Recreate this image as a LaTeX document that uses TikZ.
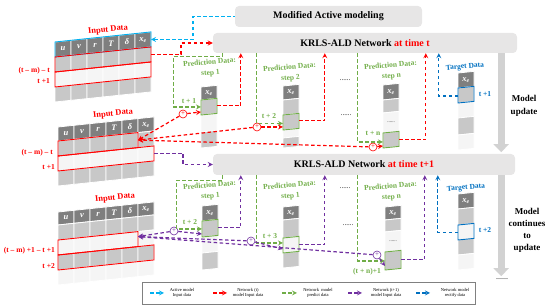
\documentclass[tikz,border=0pt]{standalone}
\usepackage{fontspec}
\setmainfont{Liberation Serif}
\usepackage{xcolor}
\usepackage{tikz}
\usetikzlibrary{arrows.meta, positioning}

\definecolor{cyanc}{RGB}{0,176,240}
\definecolor{redc}{RGB}{255,0,0}
\definecolor{greenc}{RGB}{112,173,71}
\definecolor{purplec}{RGB}{112,48,160}
\definecolor{bluec}{RGB}{0,112,192}
\definecolor{hdcol}{RGB}{127,127,127}
\definecolor{cgray}{RGB}{200,200,200}
\definecolor{clight}{RGB}{245,245,245}
\definecolor{boxgray}{RGB}{231,230,230}

\tikzset{
  netbox/.style={fill=boxgray, rounded corners=4pt, inner sep=0pt, font=\fontsize{10}{12}\selectfont\bfseries},
  cellbox/.style={draw=white, line width=0.8pt},
  hdtxt/.style={text=white, font=\fontsize{8.5}{9}\selectfont\bfseries\itshape, inner sep=0pt},
  dashln/.style={dash pattern=on 3.5pt off 2.5pt, line width=1.2pt},
  cline/.style={dashln, cyanc},
  rline/.style={dashln, redc},
  gline/.style={dashln, greenc},
  pline/.style={dashln, purplec},
  bline/.style={dashln, bluec},
  redbox/.style={draw=redc, line width=0.9pt},
  gcell/.style={draw=greenc, line width=0.9pt},
  bcell/.style={draw=bluec, line width=0.9pt},
  plus/.style={circle, draw=#1, text=#1, line width=0.6pt, minimum size=8pt, inner sep=0pt, font=\fontsize{7}{7}\selectfont},
  lab/.style={font=\fontsize{7.5}{8.5}\selectfont\bfseries, inner sep=1pt},
  predlab/.style={font=\fontsize{7.5}{10.5}\selectfont\bfseries, inner sep=0pt, text=greenc, align=center, rotate=5},
  leglab/.style={font=\fontsize{4.5}{5.5}\selectfont, align=center},
  bigarrow/.style={line width=7pt, gray!35, -{Triangle[width=15pt,length=8pt]}}
}

\begin{document}
\begin{tikzpicture}[x=1pt, y=-1pt, >=stealth]
\useasboundingbox (0,0) rectangle (550,307);

% Boxen oben
\node[netbox, minimum width=187pt, minimum height=21pt] (mod) at (328.5,16.5) {Modified Active modeling};
\node[netbox, minimum width=304pt, minimum height=20pt] (net1) at (365,43) {KRLS-ALD Network \textcolor{redc}{at time t}};
\node[netbox, minimum width=302pt, minimum height=21pt] (net2) at (364,164.5) {KRLS-ALD Network \textcolor{redc}{at time t+1}};

% grosse Pfeile rechts
\draw[bigarrow] ([xshift=-16]net1.south east) -- ++(0,99);
\draw[bigarrow] ([xshift=-14]net2.south east) -- ++(0,101);
\node[font=\fontsize{9}{13}\selectfont\bfseries, align=center] (upd1) at (524,106) {Model\\update};
\node[font=\fontsize{9}{12}\selectfont\bfseries, align=center] (upd2) at (527,230) {Model\\continues\\to\\update};
\node[font=\fontsize{8}{8}\selectfont] (more) at (502,279) {......};

% --- Eingangsdaten 1 ---
\node[lab, text=redc, rotate=6, font=\fontsize{8.5}{9}\selectfont\bfseries] (in1) at (108,30) {Input Data};
\begin{scope}[shift={(55,42)}, yslant=0.105]
  \foreach \lab [count=\i from 0] in {u,v,r,T,δ,x\textsubscript{e}}{
    \filldraw[cellbox, fill=hdcol] (\i*16,0) rectangle ++(16,15);
    \node[hdtxt] at (\i*16+8,7.5) {\lab};
  }
  \foreach \ya/\yb/\cc in {15/30/cgray, 30/45/clight, 45/60/cgray}
    \foreach \i in {0,...,5}
      \filldraw[cellbox, fill=\cc] (\i*16,\ya) rectangle ++(16,\yb-\ya);
  \draw[draw=cyanc, line width=0.9pt] (0,0) rectangle (96,15);
  \draw[redbox] (0,15) rectangle (96,30);
  \draw[redbox] (0,30) rectangle (96,45);
  \coordinate (t1h) at (96,7.5);
  \coordinate (t1r) at (96,22.5);
\end{scope}
\node[lab, text=redc, anchor=east] (w1a) at (51,71) {(t – m) – t};
\node[lab, text=redc, anchor=east] (w1b) at (51,81) {t +1};

% --- Eingangsdaten 2 ---
\node[lab, text=redc, rotate=6, font=\fontsize{8.5}{9}\selectfont\bfseries] (in2) at (113,114) {Input Data};
\begin{scope}[shift={(58,127)}, yslant=0.105]
  \foreach \lab [count=\i from 0] in {u,v,r,T,δ,x\textsubscript{e}}{
    \filldraw[cellbox, fill=hdcol] (\i*16,0) rectangle ++(16,14);
    \node[hdtxt] at (\i*16+8,7) {\lab};
  }
  \foreach \ya/\yb/\cc in {14/29/cgray, 29/44/clight, 44/59/cgray}
    \foreach \i in {0,...,5}
      \filldraw[cellbox, fill=\cc] (\i*16,\ya) rectangle ++(16,\yb-\ya);
  \draw[redbox] (0,14) rectangle (80,29);
  \draw[redbox] (0,29) rectangle (96,44);
  \coordinate (t2x) at (80,21.5);
  \coordinate (t2r) at (96,36.5);
\end{scope}
\node[lab, text=redc, anchor=east] (w2a) at (54,153) {(t – m) – t};
\node[lab, text=redc, anchor=east] (w2b) at (56,167) {t +1};

% --- Eingangsdaten 3 ---
\node[lab, text=redc, rotate=6, font=\fontsize{8.5}{9}\selectfont\bfseries] (in3) at (115,198) {Input Data};
\begin{scope}[shift={(58,212)}, yslant=0.105]
  \foreach \lab [count=\i from 0] in {u,v,r,T,δ,x\textsubscript{e}}{
    \filldraw[cellbox, fill=hdcol] (\i*16,0) rectangle ++(16,13);
    \node[hdtxt] at (\i*16+8,6.5) {\lab};
  }
  \foreach \ya/\yb/\cc in {13/28/cgray, 28/43/clight, 43/58/cgray, 58/73/clight}
    \foreach \i in {0,...,5}
      \filldraw[cellbox, fill=\cc] (\i*16,\ya) rectangle ++(16,\yb-\ya);
  \draw[redbox] (0,28) rectangle (80,43);
  \draw[redbox] (0,43) rectangle (96,58);
  \coordinate (t3x) at (80,33);
\end{scope}
\node[lab, text=redc, anchor=east] (w3a) at (56,251) {(t – m) +1 – t +1};
\node[lab, text=redc, anchor=east] (w3b) at (56,266) {t +2};

% --- Vorhersage zur Zeit t ---
\node[predlab] (p1) at (210,68) {Prediction Data:\\step 1};
\node[predlab] (p2) at (290,73) {Prediction Data:\\step 2};
\node[predlab] (pn) at (391,71) {Prediction Data:\\step n};
\node[lab, text=bluec, rotate=5] (tg1) at (465,67) {Target Data};
\node[font=\fontsize{7}{7}\selectfont] (d1) at (345,80) {......};
\node[font=\fontsize{7}{7}\selectfont] (d2) at (346,115) {......};

\begin{scope}[shift={(201,87)}, yslant=0.1]
  \foreach \ya/\yb/\cc in {0/13/hdcol, 13/28/cgray, 28/45/clight, 45/61/cgray}
    \filldraw[cellbox, fill=\cc] (0,\ya) rectangle (16,\yb);
  \node[hdtxt] at (8,6.5) {x\textsubscript{e}};
  \draw[gcell] (0,13) rectangle (16,28);
  \coordinate (s1a) at (0,20);
  \coordinate (s1b) at (0,25);
  \coordinate (s1o) at (16,20.5);
\end{scope}
\begin{scope}[shift={(283,86)}, yslant=0.1]
  \foreach \ya/\yb/\cc in {0/14/hdcol, 14/29/cgray, 29/44/cgray, 44/52/clight, 52/62/cgray}
    \filldraw[cellbox, fill=\cc] (0,\ya) rectangle (16,\yb);
  \node[hdtxt] at (8,7) {x\textsubscript{e}};
  \draw[gcell] (0,29) rectangle (16,44);
  \coordinate (s2a) at (0,37.5);
  \coordinate (s2b) at (0,41);
  \coordinate (s2o) at (16,36.5);
\end{scope}
\begin{scope}[shift={(383,85)}, yslant=0.1]
  \foreach \ya/\yb/\cc in {0/15/hdcol, 15/28/cgray, 28/48/clight, 48/63/cgray}
    \filldraw[cellbox, fill=\cc] (0,\ya) rectangle (16,\yb);
  \node[hdtxt] at (8,7.5) {x\textsubscript{e}};
  \node[font=\fontsize{5}{5}\selectfont] at (8,38) {......};
  \draw[gcell] (0,48) rectangle (16,63);
  \coordinate (sna) at (0,57);
  \coordinate (snb) at (0,61);
  \coordinate (sno) at (16,56);
\end{scope}
\begin{scope}[shift={(458,73)}, yslant=0.1]
  \foreach \ya/\yb/\cc in {0/15/hdcol, 15/30/cgray, 30/45/clight, 45/62/cgray, 62/77/clight}
    \filldraw[cellbox, fill=\cc] (0,\ya) rectangle (16,\yb);
  \node[hdtxt] at (8,7.5) {x\textsubscript{e}};
  \draw[bcell] (0,15) rectangle (16,30);
  \coordinate (tg1a) at (0,23);
\end{scope}
\node[lab, text=bluec] (tt1) at (485,94) {t +1};

% Kreise
\node[plus=redc] (c1) at (183,114) {+};
\node[plus=redc] (c2) at (257,127) {+};
\node[plus=redc] (cn) at (373,147) {+};
\node[lab, text=greenc] (lt1) at (189,101) {t + 1};
\node[lab, text=greenc] (lt2) at (269,116) {t + 2};
\node[lab, text=greenc] (ltn) at (373,133) {t + n};

% Verbindungen zur Zeit t
\draw[cline,<-] (t1h) -- ++(42,0) |- (mod.west);
\draw[rline,->] (t1r) -- ++(30,0) |- (net1.west);
\draw[gline,->] ([xshift=10]net1.south west) -- ++(0,3) -- ++(-49,0) |- (s1a);
\draw[gline,->] ([xshift=44]net1.south west) |- (s2a);
\draw[gline,->] ([xshift=145]net1.south west) |- (sna);
\draw[rline,->] (s1o) -| ([xshift=28]net1.south west);
\draw[rline,->] (s2o) -| ([xshift=112]net1.south west);
\draw[rline,->] (sno) -| ([xshift=213]net1.south west);
\draw[bline,->] (tg1a) -| ([xshift=226]net1.south west);
\draw[rline,->] (c1) -- (t2x);
\draw[rline,->] (c2) -- (t2x);
\draw[rline,->] (cn) -- (t2x);
\draw[rline,->] (c1) -- (s1b);
\draw[rline,->] (c2) -- (s2b);
\draw[rline,->] (cn) -- (snb);

% --- Vorhersage zur Zeit t+1 ---
\node[predlab] (q1) at (210,191) {Prediction Data:\\step 1};
\node[predlab] (q2) at (290,191) {Prediction Data:\\step 1};
\node[predlab] (qn) at (391,192) {Prediction Data:\\step n};
\node[lab, text=bluec, rotate=5] (tg2) at (466,188) {Target Data};
\node[font=\fontsize{7}{7}\selectfont] (d3) at (345,188) {......};
\node[font=\fontsize{7}{7}\selectfont] (d4) at (348,225) {......};

\begin{scope}[shift={(202,206)}, yslant=0.1]
  \foreach \ya/\yb/\cc in {0/15/hdcol, 15/31/cgray, 31/47/clight, 47/64/cgray}
    \filldraw[cellbox, fill=\cc] (0,\ya) rectangle (16,\yb);
  \node[hdtxt] at (8,7.5) {x\textsubscript{e}};
  \draw[gcell] (0,15) rectangle (16,31);
  \coordinate (b1a) at (0,23);
  \coordinate (b1c) at (0,28);
  \coordinate (b1o) at (16,23);
\end{scope}
\begin{scope}[shift={(283,207)}, yslant=0.1]
  \foreach \ya/\yb/\cc in {0/13/hdcol, 13/31/cgray, 31/46/clight, 46/61/cgray}
    \filldraw[cellbox, fill=\cc] (0,\ya) rectangle (16,\yb);
  \node[hdtxt] at (8,6.5) {x\textsubscript{e}};
  \draw[gcell] (0,31) rectangle (16,46);
  \coordinate (b2a) at (0,36);
  \coordinate (b2c) at (0,42);
  \coordinate (b2o) at (16,39);
\end{scope}
\begin{scope}[shift={(385,207)}, yslant=0.1]
  \foreach \ya/\yb/\cc in {0/13/hdcol, 13/25/cgray, 25/45/clight, 45/63/cgray}
    \filldraw[cellbox, fill=\cc] (0,\ya) rectangle (16,\yb);
  \node[hdtxt] at (8,6.5) {x\textsubscript{e}};
  \node[font=\fontsize{5}{5}\selectfont] at (8,35) {......};
  \draw[gcell] (0,45) rectangle (16,63);
  \coordinate (bna) at (0,54);
  \coordinate (bnc) at (0,59);
  \coordinate (bno) at (16,54);
\end{scope}
\begin{scope}[shift={(458,194)}, yslant=0.1]
  \foreach \ya/\yb/\cc in {0/15/hdcol, 15/31/cgray, 31/46/clight, 46/61/cgray, 61/76/clight}
    \filldraw[cellbox, fill=\cc] (0,\ya) rectangle (16,\yb);
  \node[hdtxt] at (8,7.5) {x\textsubscript{e}};
  \draw[bcell] (0,31) rectangle (16,46);
  \coordinate (tg2a) at (0,38.5);
\end{scope}
\node[lab, text=bluec] (tt2) at (485,230) {t +2};

% Kreise
\node[plus=purplec] (k1) at (174,231) {+};
\node[plus=purplec] (k2) at (251,241) {+};
\node[plus=purplec] (kn) at (377,255) {+};
\node[lab, text=greenc] (lu1) at (190,222) {t + 2};
\node[lab, text=greenc] (lu2) at (270,236) {t + 3};
\node[lab, text=greenc] (lun) at (367,272) {(t + n)+1};

% Verbindungen zur Zeit t+1
\draw[pline,->] (t2r) -- ++(29,0) |- (net2.west);
\draw[gline,->] ([xshift=10]net2.south west) -- ++(0,5) -- ++(-46,0) |- (b1a);
\draw[gline,->] ([xshift=44]net2.south west) |- (b2a);
\draw[gline,->] ([xshift=145]net2.south west) |- (bna);
\draw[pline,->] (b1o) -| ([xshift=28]net2.south west);
\draw[pline,->] (b2o) -| ([xshift=112]net2.south west);
\draw[pline,->] (bno) -| ([xshift=212]net2.south west);
\draw[bline,->] (tg2a) -| ([xshift=225]net2.south west);
\draw[pline,->] (k1) -- (t3x);
\draw[pline,->] (k2) -- (t3x);
\draw[pline,->] (kn) -- (t3x);
\draw[pline,->] (k1) -- (b1c);
\draw[pline,->] (k2) -- (b2c);
\draw[pline,->] (kn) -- (bnc);

% Legende
\node[draw=gray, line width=0.6pt, minimum width=333pt, minimum height=22pt, inner sep=0pt] (leg) at (308.5,293) {};
\draw[cline,->] (150,293) -- (164,293);
\node[leglab] (l1) at (182,293) {Active model\\Input data};
\draw[rline,->] (213,293) -- (227,293);
\node[leglab] (l2) at (248,293) {Network (t)\\model Input data};
\draw[gline,->] (282,293) -- (297,293);
\node[leglab] (l3) at (318,293) {Network \ model\\predict data};
\draw[pline,->] (348,293) -- (362,293);
\node[leglab] (l4) at (386,293) {Network (t+1)\\model Input data};
\draw[bline,->] (416,293) -- (430,293);
\node[leglab] (l5) at (455,293) {Network model\\rectify data};

\end{tikzpicture}
\end{document}
